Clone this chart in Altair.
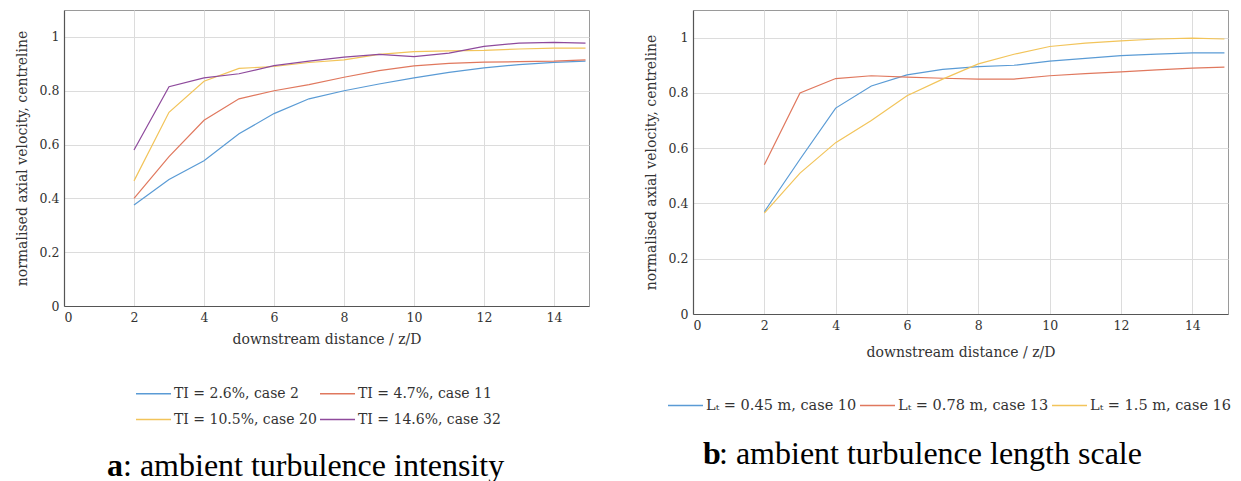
import altair as alt
import pandas as pd

# ---------------- data ----------------
x_vals = [2, 3, 4, 5, 6, 7, 8, 9, 10, 11, 12, 13, 14, 14.9]

a_labels = ["TI = 2.6%, case 2", "TI = 4.7%, case 11",
            "TI = 10.5%, case 20", "TI = 14.6%, case 32"]
a_ti_2_6 = [0.375, 0.47, 0.54, 0.64, 0.715, 0.77, 0.80, 0.825, 0.848, 0.868, 0.885, 0.897, 0.905, 0.91]
a_ti_4_7 = [0.40, 0.555, 0.69, 0.77, 0.80, 0.823, 0.85, 0.875, 0.892, 0.902, 0.906, 0.908, 0.91, 0.915]
a_ti_10_5 = [0.465, 0.72, 0.835, 0.883, 0.89, 0.905, 0.915, 0.935, 0.945, 0.948, 0.95, 0.955, 0.958, 0.958]
a_ti_14_6 = [0.58, 0.815, 0.848, 0.863, 0.893, 0.91, 0.925, 0.935, 0.927, 0.94, 0.965, 0.977, 0.98, 0.977]

b_labels = ["Lₜ = 0.45 m, case 10", "Lₜ = 0.78 m, case 13", "Lₜ = 1.5 m, case 16"]
b_lt_045 = [0.37, 0.56, 0.745, 0.825, 0.865, 0.885, 0.895, 0.90, 0.915, 0.925, 0.935, 0.94, 0.945, 0.945]
b_lt_078 = [0.54, 0.80, 0.852, 0.862, 0.857, 0.853, 0.85, 0.85, 0.862, 0.87, 0.876, 0.883, 0.89, 0.893]
b_lt_150 = [0.365, 0.51, 0.62, 0.70, 0.79, 0.85, 0.905, 0.94, 0.968, 0.98, 0.988, 0.995, 0.998, 0.995]

x_ticks = [0, 2, 4, 6, 8, 10, 12, 14]
y_ticks = [0, 0.2, 0.4, 0.6, 0.8, 1]

colors_a = ["#5a9bd5", "#e0785e", "#f2c45a", "#8e4a9c"]
colors_b = ["#5a9bd5", "#e0785e", "#f2c45a"]

FONT = "DejaVu Serif"


def long_df(labels, series):
    rows = []
    for lab, ys in zip(labels, series):
        for x, y in zip(x_vals, ys):
            rows.append({"x": x, "y": y, "series": lab})
    return pd.DataFrame(rows)


df_a = long_df(a_labels, [a_ti_2_6, a_ti_4_7, a_ti_10_5, a_ti_14_6])
df_b = long_df(b_labels, [b_lt_045, b_lt_078, b_lt_150])

axis_common = dict(labelFont=FONT, labelFontSize=12.5, labelColor="#333333",
                   titleFont=FONT, titleFontSize=14, titleColor="#333333",
                   titleFontWeight="normal", grid=True, gridColor="#dcdcdc",
                   gridWidth=1, domainColor="#555555", domainWidth=1.2,
                   ticks=False, labelPadding=5, format="~g")


def panel(df, labels, colors, w, h, legend, cap_bold, cap_rest, cap_x, cap_y, xtp):
    lines = alt.Chart(df).mark_line(strokeWidth=1.2, clip=True).encode(
        x=alt.X("x:Q", scale=alt.Scale(domain=[0, 15], nice=False, zero=False),
                axis=alt.Axis(values=x_ticks, title="downstream distance / z/D",
                              titlePadding=xtp, **axis_common)),
        y=alt.Y("y:Q", scale=alt.Scale(domain=[0, 1.1], nice=False),
                axis=alt.Axis(values=y_ticks, title="normalised axial velocity, centreline",
                              titlePadding=10, **axis_common)),
        color=alt.Color("series:N", scale=alt.Scale(domain=labels, range=colors),
                        sort=labels, legend=legend),
        detail="series:N",
    )
    cap1 = alt.Chart(pd.DataFrame({"t": [cap_bold]})).mark_text(
        font="Liberation Serif", fontSize=32, fontWeight="bold", align="left",
        baseline="middle", color="#000000"
    ).encode(text="t:N", x=alt.value(cap_x), y=alt.value(cap_y))
    cap2 = alt.Chart(pd.DataFrame({"t": [cap_rest]})).mark_text(
        font="Liberation Serif", fontSize=32, align="left",
        baseline="middle", color="#000000"
    ).encode(text="t:N", x=alt.value(cap_x + 16), y=alt.value(cap_y))
    return alt.layer(lines, cap1, cap2).properties(width=w, height=h)


legend_a = alt.Legend(title=None, orient="none", legendX=71, legendY=365,
                      columns=2, direction="horizontal", symbolType="stroke",
                      symbolSize=1225, symbolStrokeWidth=1.5, labelFont=FONT,
                      labelFontSize=14, labelColor="#333333", rowPadding=-3,
                      columnPadding=0, labelOffset=2)
legend_b = alt.Legend(title=None, orient="none", legendX=-26, legendY=377,
                      columns=3, direction="horizontal", symbolType="stroke",
                      symbolSize=1225, symbolStrokeWidth=1.5, labelFont=FONT,
                      labelFontSize=14.5, labelColor="#333333",
                      columnPadding=0, labelOffset=2)

left = panel(df_a, a_labels, colors_a, 525, 296, legend_a,
             "a", ": ambient turbulence intensity", 43, 456, 9)
right = panel(df_b, b_labels, colors_b, 535, 304, legend_b,
              "b", ": ambient turbulence length scale", 10, 444, 14)

chart = alt.hconcat(left, right, spacing=53).resolve_scale(
    color="independent"
).properties(
    padding={"left": 6, "top": 1, "right": 0, "bottom": 0}
).configure_view(
    stroke="#9a9a9a", strokeWidth=1
).configure_axis(
    labelFont=FONT, titleFont=FONT
)

chart.save("out.html", embed_options={"renderer": "svg", "actions": False})
